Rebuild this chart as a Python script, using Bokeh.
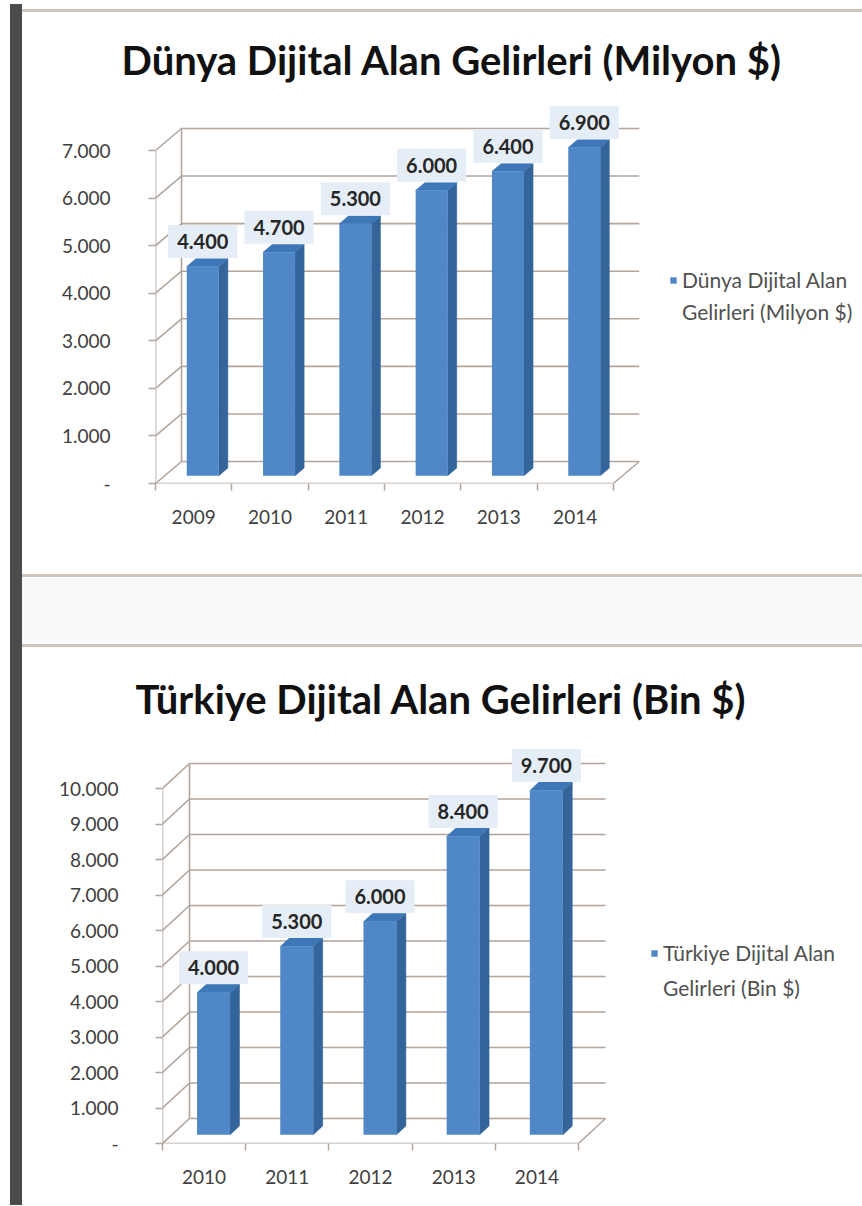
from bokeh.plotting import figure
from bokeh.models import Range1d, FixedTicker, LinearAxis, Legend, LegendItem, Title, Div
from bokeh.layouts import column, row
from bokeh.embed import file_html
from bokeh.resources import INLINE
from bokeh.core.properties import value

# ---------------- data ----------------
dunya_title = "Dünya Dijital Alan Gelirleri (Milyon $)"
dunya_legend = ["Dünya Dijital Alan", "Gelirleri (Milyon $)"]
dunya_years = ["2009", "2010", "2011", "2012", "2013", "2014"]
dunya_values = [4400, 4700, 5300, 6000, 6400, 6900]
dunya_ticks = [0, 1000, 2000, 3000, 4000, 5000, 6000, 7000]

turkiye_title = "Türkiye Dijital Alan Gelirleri (Bin $)"
turkiye_legend = ["Türkiye Dijital Alan", "Gelirleri (Bin $)"]
turkiye_years = ["2010", "2011", "2012", "2013", "2014"]
turkiye_values = [4000, 5300, 6000, 8400, 9700]
turkiye_ticks = [0, 1000, 2000, 3000, 4000, 5000, 6000, 7000, 8000, 9000, 10000]

# ---------------- style ----------------
FONT = "Lato"
GRID = "#b3a59b"
FRONT = "#4f87c7"
SIDE = "#33649a"
TOP = "#3e77b7"
LABEL_BG = "#e5edf6"
W = 840


def fmt(v):
    return "-" if v == 0 else f"{v:,}".replace(",", ".")


def make_chart(title, legend_lines, years, values, ticks, cfg):
    n = len(years)
    width = cfg["width"]
    frame_w = width - cfg["mb_left"]
    frame_h = cfg["height"] - cfg["mb_top"] - cfg["mb_bottom"]
    cat_px = cfg["cat_px"]
    ppu = cfg["ppu"]
    x_range = Range1d(-0.5, -0.5 + frame_w / cat_px)
    y_range = Range1d(0, frame_h / ppu)
    DX = cfg["dx_px"] / cat_px
    DY = cfg["dy_px"] / ppu
    bw = cfg["bar_px"] / cat_px
    f1, f2 = 0.35, 0.70

    p = figure(width=width, height=cfg["height"], x_range=x_range, y_range=y_range,
               x_axis_type=None, y_axis_type=None, output_backend="svg",
               toolbar_location=None, min_border_left=cfg["mb_left"],
               min_border_right=0, min_border_top=cfg["mb_top"],
               min_border_bottom=cfg["mb_bottom"], frame_align=False)
    p.outline_line_color = None
    p.background_fill_color = "white"
    p.border_fill_color = "white"

    t = Title(text=title, align="left", offset=cfg["title_offset"],
              standoff=cfg["title_standoff"], text_font=FONT,
              text_font_size="40px", text_font_style="bold", text_color="#111111")
    p.add_layout(t, "above")

    x0 = -0.5
    x1 = n - 0.5
    vmax = ticks[-1]
    # back wall gridlines
    p.segment(x0=[x0 + DX] * len(ticks), y0=[v + DY for v in ticks],
              x1=[x1 + DX] * len(ticks), y1=[v + DY for v in ticks],
              line_color=GRID, line_width=1.6)
    # side wall diagonals
    p.segment(x0=[x0] * len(ticks), y0=ticks, x1=[x0 + DX] * len(ticks),
              y1=[v + DY for v in ticks], line_color=GRID, line_width=1.6)
    # wall corner, front axis, floor front, floor right
    p.segment(x0=[x0 + DX, x0, x0, x1], y0=[DY, 0, 0, 0],
              x1=[x0 + DX, x0, x1, x1 + DX], y1=[vmax + DY, vmax, 0, DY],
              line_color=GRID, line_width=1.6)

    # bars
    lefts = [i + f1 * DX - bw / 2 for i in range(n)]
    rights = [i + f1 * DX + bw / 2 for i in range(n)]
    base = f1 * DY
    tops = [v + base for v in values]
    ddx = (f2 - f1) * DX
    ddy = (f2 - f1) * DY
    side_xs = [[r, r + ddx, r + ddx, r] for r in rights]
    side_ys = [[base, base + ddy, tp + ddy, tp] for tp in tops]
    top_xs = [[l, r, r + ddx, l + ddx] for l, r in zip(lefts, rights)]
    top_ys = [[tp, tp, tp + ddy, tp + ddy] for tp in tops]
    p.patches(side_xs, side_ys, fill_color=SIDE, line_color=SIDE, line_width=0.5)
    p.patches(top_xs, top_ys, fill_color=TOP, line_color=TOP, line_width=0.5)
    front = p.quad(left=lefts, right=rights, bottom=[base] * n, top=tops,
                   fill_color=FRONT, line_color=None)
    # invisible renderer used only to carry the wrapped second legend line
    blank = p.quad(left=[], right=[], bottom=[], top=[], fill_alpha=0, line_alpha=0)

    # data labels
    p.text(x=[i + f1 * DX for i in range(n)], y=tops, text=[fmt(v) for v in values],
           text_align="center", text_baseline="middle", y_offset=cfg["label_dy"],
           text_font=value(FONT), text_font_style="bold", text_font_size="20px",
           text_color="#262626", background_fill_color=LABEL_BG,
           background_fill_alpha=1.0, padding=9)

    # axes
    yaxis = LinearAxis(ticker=FixedTicker(ticks=ticks),
                       major_label_overrides={v: fmt(v) for v in ticks},
                       axis_line_color=None, major_tick_line_color=GRID,
                       major_tick_line_width=1.5,
                       major_tick_out=7, major_tick_in=0, minor_tick_line_color=None,
                       major_label_standoff=cfg["ylab_standoff"],
                       major_label_text_font=FONT, major_label_text_font_size="19px",
                       major_label_text_color="#404040")
    p.add_layout(yaxis, "left")
    xaxis = LinearAxis(ticker=FixedTicker(ticks=list(range(n)),
                                          minor_ticks=[i - 0.5 for i in range(n + 1)]),
                       major_label_overrides={i: y for i, y in enumerate(years)},
                       axis_line_color=None, major_tick_line_color=None,
                       major_tick_out=0, major_tick_in=0,
                       minor_tick_line_color=GRID, minor_tick_line_width=1.5,
                       minor_tick_out=7, minor_tick_in=0,
                       major_label_standoff=19,
                       major_label_text_font=FONT, major_label_text_font_size="19px",
                       major_label_text_color="#404040")
    p.add_layout(xaxis, "below")

    legend = Legend(items=[LegendItem(label=legend_lines[0], renderers=[front]),
                           LegendItem(label=legend_lines[1], renderers=[blank])],
                    location=cfg["legend_loc"], border_line_color=None,
                    background_fill_alpha=0, padding=0, margin=0,
                    spacing=cfg["legend_spacing"],
                    glyph_width=8, glyph_height=8, label_standoff=5,
                    label_text_font=FONT, label_text_font_size="21px",
                    label_text_color="#505050")
    p.add_layout(legend)
    return p


# page is laid out from (0, 0): chart frames sit at fixed page pixels
cfg1 = dict(width=W, height=562, mb_left=133, mb_top=83, mb_bottom=91, cat_px=76.3,
            ppu=333 / 7000, dx_px=26, dy_px=22, bar_px=32, label_dy=-25,
            title_offset=-34, title_standoff=23, ylab_standoff=38,
            legend_loc=(514, 159), legend_spacing=7)
cfg2 = dict(width=W, height=558, mb_left=140, mb_top=88, mb_bottom=62, cat_px=83.2,
            ppu=355 / 10000, dx_px=27, dy_px=25, bar_px=33, label_dy=-25,
            title_offset=-27, title_standoff=26, ylab_standoff=37,
            legend_loc=(488, 143), legend_spacing=10)

p1 = make_chart(dunya_title, dunya_legend, dunya_years, dunya_values, dunya_ticks, cfg1)
p2 = make_chart(turkiye_title, turkiye_legend, turkiye_years, turkiye_values, turkiye_ticks, cfg2)


def block(w, h, color):
    return Div(text="", width=w, height=h, margin=0,
               styles={"background-color": color})


left_bar = Div(text="", width=12, height=1201, margin=(4, 0, 0, 10),
               styles={"background-color": "#4b4b4b"})
col = column(block(W, 9, "#ffffff"), block(W, 3, "#cdc5be"), p1,
             block(W, 3, "#cdc5be"), block(W, 67, "#f9fafc"),
             block(W, 3, "#cdc5be"), p2, spacing=0)
layout = row(left_bar, col, spacing=0)

open("out.html", "w").write(file_html(layout, INLINE))
